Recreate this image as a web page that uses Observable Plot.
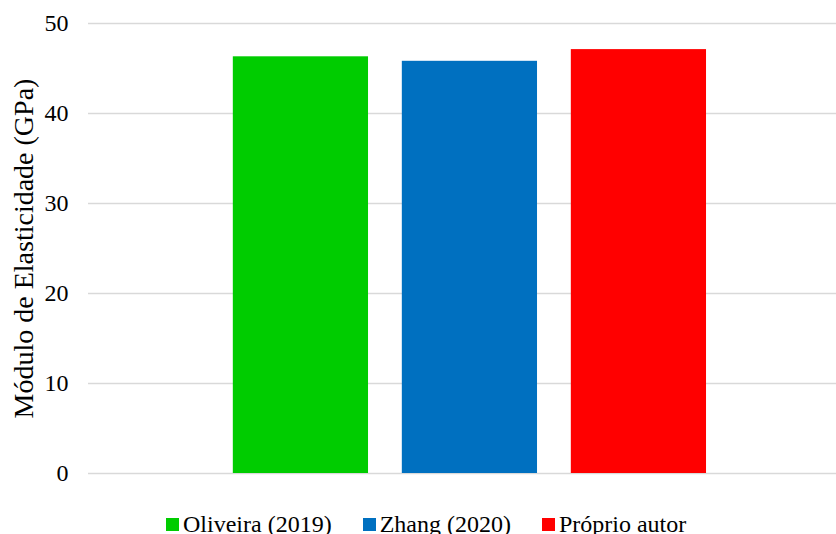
<!DOCTYPE html>
<html>
<head>
<meta charset="utf-8">
<script src="https://cdn.jsdelivr.net/npm/d3@7"></script>
<script src="https://cdn.jsdelivr.net/npm/@observablehq/plot@0.6"></script>
<style>
  html, body { margin: 0; padding: 0; background: #fff; }
  #wrap { position: relative; width: 836px; height: 534px; overflow: hidden; }
  #wrap svg, #wrap svg text { font-family: "Liberation Serif", "Times New Roman", "DejaVu Serif", serif !important; }
  #leg { position: absolute; top: 512px; left: 166px; }
  #leg * { font-family: "Liberation Serif", "Times New Roman", "DejaVu Serif", serif !important; font-size: 24px !important; color: #000 !important; }
  #leg > div { display: flex !important; align-items: center !important; min-height: 0 !important; height: 24px; line-height: 24px; margin: 0 !important; flex-wrap: nowrap !important; }
  #leg > div > span, #leg > div > div { display: inline-flex !important; align-items: center !important; margin: 0 31px 0 0 !important; }
  #leg svg { margin: 0 4px 0 0 !important; }
</style>
</head>
<body>
<div id="wrap"></div>
<script>
const series = ["Oliveira (2019)", "Zhang (2020)", "Próprio autor"];
const values = [46.3, 45.8, 47.1];
const colors = ["#00CC00", "#0070C0", "#FF0000"];
const yTicks = [0, 10, 20, 30, 40, 50];
const yLabel = "Módulo de Elasticidade (GPa)";

const data = series.map((s, i) => ({series: s, value: values[i]}));

const plot = Plot.plot({
  width: 836,
  height: 500,
  marginLeft: 88,
  marginRight: 0,
  marginTop: 23,
  marginBottom: 27,
  style: {fontFamily: "'Liberation Serif', serif", background: "#fff"},
  x: {domain: series, paddingInner: 0.2, paddingOuter: 0.813, align: 0.527, round: false, axis: null},
  y: {domain: [0, 50], ticks: yTicks, axis: null},
  color: {domain: series, range: colors},
  marks: [
    Plot.gridY(yTicks, {stroke: "#d9d9d9", strokeOpacity: 1, strokeWidth: 1.5}),
    Plot.axisY(yTicks, {tickSize: 0, tickPadding: 20, fontSize: 24, fill: "#000", label: null}),
    Plot.barY(data, {x: "series", y: "value", fill: "series"}),
    Plot.text([yLabel], {frameAnchor: "left", dx: -64, rotate: -90, textAnchor: "middle", lineAnchor: "middle", fontSize: 28, fill: "#000"})
  ]
});

const wrap = document.getElementById("wrap");
wrap.appendChild(plot);
const leg = document.createElement("div");
leg.id = "leg";
leg.appendChild(plot.legend("color", {swatchSize: 13}));
wrap.appendChild(leg);
</script>
</body>
</html>
